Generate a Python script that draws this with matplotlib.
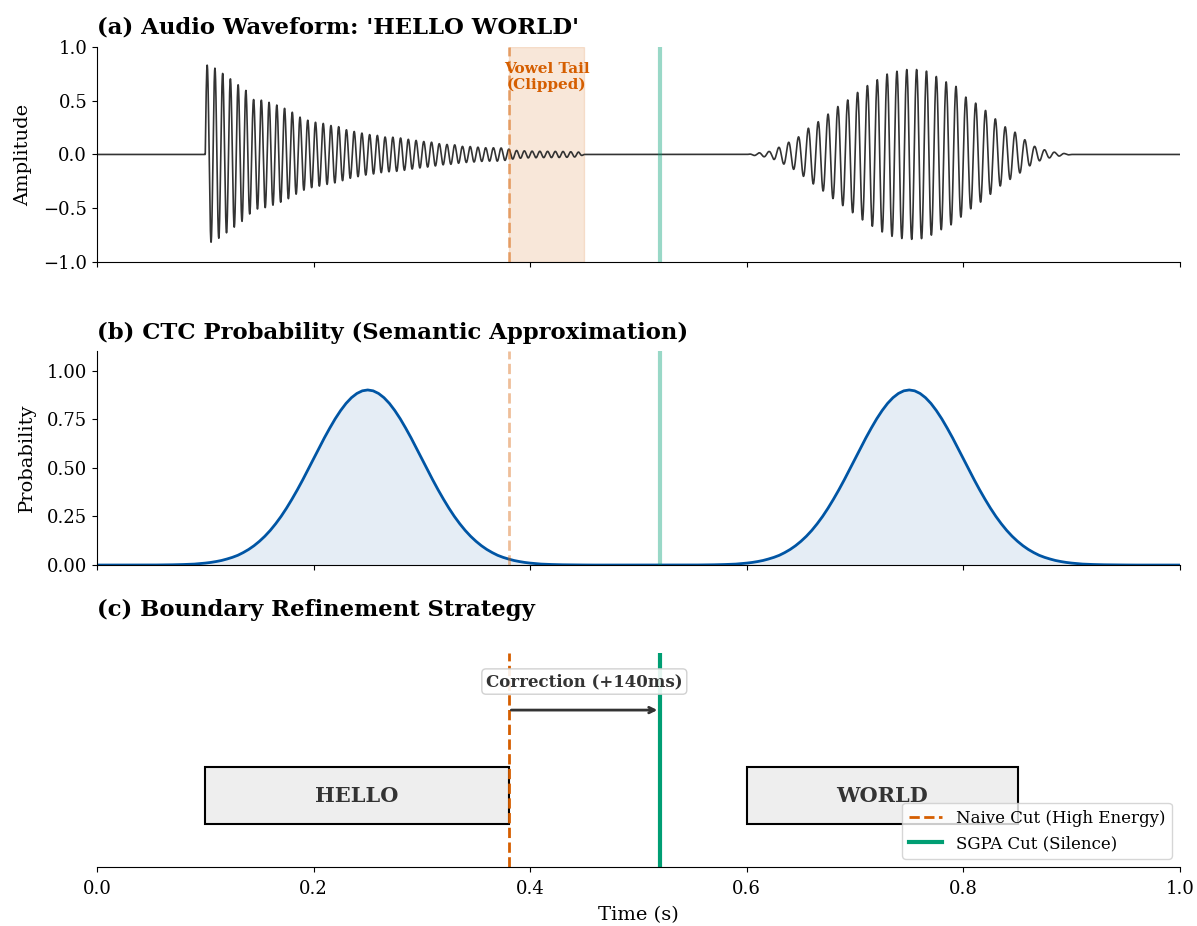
import numpy as np
import matplotlib
matplotlib.use("Agg")
import matplotlib.pyplot as plt
from matplotlib.lines import Line2D

plt.rcParams['font.family'] = ['DejaVu Serif']

# peak amplitudes of each cycle
hello_t = [0.100, 0.1019, 0.1096, 0.1166, 0.1237, 0.1308, 0.1376, 0.1447, 0.1517,
           0.1588, 0.1659, 0.173, 0.180, 0.1868, 0.194, 0.2013, 0.2084, 0.2154,
           0.2228, 0.230, 0.237, 0.244, 0.2515, 0.2585, 0.2656, 0.274, 0.281,
           0.288, 0.295, 0.302, 0.309, 0.316, 0.323, 0.330, 0.337, 0.344, 0.351,
           0.359, 0.366, 0.372, 0.379, 0.387, 0.400, 0.415, 0.430, 0.445, 0.450]
hello_amp = [0.84, 0.83, 0.80, 0.75, 0.70, 0.645, 0.595, 0.51, 0.505,
             0.485, 0.46, 0.43, 0.395, 0.35, 0.32, 0.30, 0.29, 0.27,
             0.26, 0.23, 0.215, 0.20, 0.185, 0.178, 0.162, 0.16, 0.152,
             0.14, 0.13, 0.12, 0.114, 0.10, 0.093, 0.09, 0.075, 0.074, 0.068,
             0.062, 0.062, 0.062, 0.052, 0.037, 0.031, 0.029, 0.028, 0.022, 0.0]
hello_hz = 140

world_t = [0.600, 0.6208, 0.630, 0.639, 0.648, 0.657, 0.666, 0.675, 0.684, 0.693,
           0.702, 0.712, 0.7205, 0.730, 0.739, 0.748, 0.757, 0.766, 0.775,
           0.784, 0.793, 0.802, 0.811, 0.821, 0.829, 0.838, 0.848, 0.857,
           0.866, 0.875, 0.884, 0.900]
world_amp = [0.0, 0.028, 0.068, 0.115, 0.165, 0.245, 0.305, 0.375, 0.445, 0.505,
             0.575, 0.645, 0.695, 0.75, 0.775, 0.79, 0.79, 0.775, 0.725,
             0.675, 0.635, 0.535, 0.48, 0.405, 0.335, 0.26, 0.205, 0.135,
             0.074, 0.043, 0.021, 0.0]
world_hz = 110

# CTC probability read at 0.005 s steps (0.000 .. 1.000)
prob_t = np.round(np.arange(0, 1.0001, 0.005), 3)
prob = [0.0, 0.0, 0.0, 0.0, 0.0, 0.0, 0.0, 0.0, 0.0, 0.0,
        0.0003, 0.0004, 0.0006, 0.001, 0.0014, 0.002, 0.0028, 0.0038, 0.005, 0.0075,
        0.010, 0.0134, 0.018, 0.0235, 0.031, 0.0395, 0.050, 0.0639, 0.080, 0.0993,
        0.122, 0.148, 0.178, 0.2122, 0.250, 0.2922, 0.338, 0.3866, 0.438, 0.4914,
        0.546, 0.6003, 0.654, 0.7044, 0.752, 0.7943, 0.831, 0.8604, 0.882, 0.8955,
        0.900,
        0.8955, 0.882, 0.8604, 0.831, 0.7943, 0.752, 0.7044, 0.654, 0.6003, 0.546,
        0.4914, 0.438, 0.3866, 0.338, 0.2922, 0.250, 0.2122, 0.178, 0.148, 0.122,
        0.0993, 0.080, 0.0639, 0.050, 0.0395, 0.031, 0.0235, 0.018, 0.0134, 0.010,
        0.0075, 0.005, 0.0038, 0.0028, 0.002, 0.0014, 0.001, 0.0006, 0.0004, 0.0003,
        0.0, 0.0, 0.0, 0.0, 0.0, 0.0, 0.0, 0.0, 0.0, 0.0,
        0.0, 0.0, 0.0, 0.0, 0.0, 0.0, 0.0, 0.0, 0.0,
        0.0003, 0.0004, 0.0006, 0.001, 0.0014, 0.002, 0.0028, 0.0038, 0.005, 0.0075,
        0.010, 0.0134, 0.018, 0.0235, 0.031, 0.0395, 0.050, 0.0639, 0.080, 0.0993,
        0.122, 0.148, 0.178, 0.2122, 0.250, 0.2922, 0.338, 0.3866, 0.438, 0.4914,
        0.546, 0.6003, 0.654, 0.7044, 0.752, 0.7943, 0.831, 0.8604, 0.882, 0.8955,
        0.900,
        0.8955, 0.882, 0.8604, 0.831, 0.7943, 0.752, 0.7044, 0.654, 0.6003, 0.546,
        0.4914, 0.438, 0.3866, 0.338, 0.2922, 0.250, 0.2122, 0.178, 0.148, 0.122,
        0.0993, 0.080, 0.0639, 0.050, 0.0395, 0.031, 0.0235, 0.018, 0.0134, 0.010,
        0.0075, 0.005, 0.0038, 0.0028, 0.002, 0.0014, 0.001, 0.0006, 0.0004, 0.0003,
        0.0, 0.0, 0.0, 0.0, 0.0, 0.0, 0.0, 0.0, 0.0, 0.0]

words = ["HELLO", "WORLD"]
word_start = [0.10, 0.60]
word_end = [0.38, 0.85]

naive_cut = 0.38
sgpa_cut = 0.52
tail_end = 0.45

ORANGE = '#D55E00'
GREEN = '#009E73'
BLUE = '#0055A4'

# waveform
t = np.linspace(0, 1, 8000)
env_h = np.interp(t, hello_t, hello_amp, left=0, right=0)
env_w = np.interp(t, world_t, world_amp, left=0, right=0)
wave = env_h * np.sin(2 * np.pi * hello_hz * (t - 0.1)) + env_w * np.sin(2 * np.pi * world_hz * (t - 0.6))

fig = plt.figure(figsize=(11.97, 9.26), dpi=100)
ax1 = fig.add_axes([0.0810, 0.7171, 0.9048, 0.2322])
ax2 = fig.add_axes([0.0810, 0.3898, 0.9048, 0.2311], sharex=ax1)
ax3 = fig.add_axes([0.0810, 0.0637, 0.9048, 0.2311], sharex=ax1)

# (a)
ax1.plot(t, wave, color='#333333', lw=1.2)
ax1.axvspan(naive_cut, tail_end, color=ORANGE, alpha=0.15)
ax1.axvline(naive_cut, color=ORANGE, ls='--', lw=2, alpha=0.5)
ax1.axvline(sgpa_cut, color=GREEN, lw=3, alpha=0.4)
ax1.text((naive_cut + tail_end) / 2, 0.72, "Vowel Tail\n(Clipped)", color=ORANGE,
         ha='center', va='center', fontsize=11, fontweight='bold')
ax1.set_ylim(-1, 1)
ax1.set_yticks([-1.0, -0.5, 0.0, 0.5, 1.0])
ax1.set_ylabel("Amplitude", fontsize=14, labelpad=8)
ax1.set_title("(a) Audio Waveform: 'HELLO WORLD'", loc='left', fontsize=16.4, fontweight='bold', pad=10)

# (b)
ax2.plot(prob_t, prob, color=BLUE, lw=2)
ax2.fill_between(prob_t, prob, color=BLUE, alpha=0.1, lw=0)
ax2.axvline(naive_cut, color=ORANGE, ls='--', lw=2, alpha=0.4)
ax2.axvline(sgpa_cut, color=GREEN, lw=3, alpha=0.4)
ax2.set_ylim(0, 1.1)
ax2.set_yticks([0, 0.25, 0.5, 0.75, 1.0])
ax2.set_ylabel("Probability", fontsize=14, labelpad=8)
ax2.set_title("(b) CTC Probability (Semantic Approximation)", loc='left', fontsize=16.4, fontweight='bold', pad=9)

# (c)
for w, s, e in zip(words, word_start, word_end):
    ax3.add_patch(plt.Rectangle((s, 0.3), e - s, 0.4, facecolor='#EEEEEE', edgecolor='black', lw=1.5))
    ax3.text((s + e) / 2, 0.5, w, ha='center', va='center', fontsize=15, fontweight='bold', color='#333333')
ax3.axvline(naive_cut, color=ORANGE, ls='--', lw=2)
ax3.axvline(sgpa_cut, color=GREEN, lw=3)
ax3.annotate("", xy=(sgpa_cut, 1.1), xytext=(naive_cut, 1.1),
             arrowprops=dict(arrowstyle='->', color='#333333', lw=2))
ax3.text((naive_cut + sgpa_cut) / 2, 1.3, "Correction (+140ms)", ha='center', va='center',
         fontsize=12, fontweight='bold', color='#333333',
         bbox=dict(boxstyle='round,pad=0.25', facecolor='white', edgecolor='#CCCCCC', alpha=0.9))
ax3.set_ylim(0, 1.5)
ax3.set_yticks([])
ax3.spines['left'].set_visible(False)
ax3.set_xlim(0, 1)
ax3.set_xlabel("Time (s)", fontsize=14, labelpad=6)
ax3.set_title("(c) Boundary Refinement Strategy", loc='left', fontsize=16.4, fontweight='bold', pad=27)
handles = [Line2D([0], [0], color=ORANGE, ls='--', lw=2),
           Line2D([0], [0], color=GREEN, lw=3)]
ax3.legend(handles, ["Naive Cut (High Energy)", "SGPA Cut (Silence)"], loc='lower right', fontsize=12)

for ax in (ax1, ax2, ax3):
    ax.spines['top'].set_visible(False)
    ax.spines['right'].set_visible(False)
    ax.tick_params(labelsize=13)
ax3.tick_params(axis='x', pad=6)
for ax in (ax1, ax2):
    ax.tick_params(labelbottom=False)

fig.savefig("out.png", dpi=100)
